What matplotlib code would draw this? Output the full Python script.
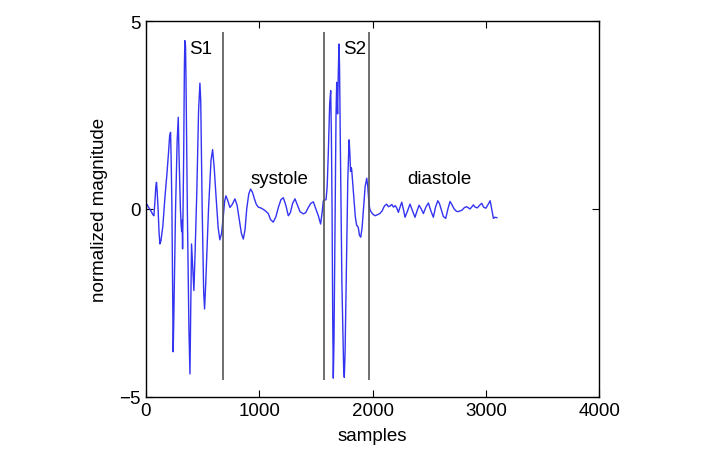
import matplotlib
matplotlib.use("Agg")
import matplotlib.pyplot as plt

plt.rcParams['font.family'] = ['Liberation Sans', 'DejaVu Sans']

# heart sound trace (sample index, normalized magnitude)
samples = [
    # S1
    0, 12, 22, 35, 50, 62, 71, 80, 88, 94, 100, 108, 116, 124, 133, 150, 168,
    185, 200, 210, 218, 224, 230, 236, 241, 246, 262, 276, 286, 292, 305, 312,
    316, 320, 324, 334, 340, 344, 350, 354, 366, 380, 389, 395, 403, 414, 424,
    436, 450, 465, 477, 484, 497, 510, 518, 528, 553, 575, 589, 603, 620, 638,
    # systole
    653, 668, 683, 695, 706, 720, 742, 762, 786, 805, 825, 843, 860, 875, 890,
    908, 924, 940, 960, 975, 992, 1020, 1051, 1080, 1100, 1124, 1148, 1170,
    1192, 1213, 1235, 1257, 1275, 1295, 1316, 1338, 1360, 1389, 1410, 1430,
    1455, 1478, 1500, 1522, 1542, 1555, 1566,
    # S2
    1590, 1600, 1610, 1622, 1631, 1637, 1643, 1649, 1654, 1660, 1670, 1678,
    1684, 1688, 1692, 1698, 1704, 1709, 1715, 1730, 1745, 1751, 1758, 1770,
    1782, 1793, 1800, 1806, 1811, 1816, 1825, 1835, 1848, 1860, 1867, 1875,
    1885, 1896, 1908, 1920, 1935,
    # diastole
    1949, 1958, 1965, 1973, 1980, 2000, 2022, 2045, 2065, 2085, 2105, 2125,
    2140, 2155, 2170, 2185, 2200, 2215, 2228, 2243, 2258, 2272, 2287, 2309,
    2331, 2353, 2375, 2393, 2411, 2430, 2449, 2471, 2493, 2515, 2537, 2556,
    2576, 2590, 2605, 2625, 2646, 2665, 2684, 2700, 2720, 2740, 2758, 2790,
    2812, 2832, 2860, 2875, 2890, 2905, 2925, 2945, 2964, 2980, 3000, 3020,
    3038, 3052, 3067, 3080, 3097]
magnitude = [
    # S1
    0.05, 0.12, 0.05, 0.0, -0.08, -0.15, -0.18, 0.2, 0.6, 0.71, 0.45, 0.0,
    -0.6, -0.93, -0.85, -0.45, 0.3, 0.9, 1.5, 1.95, 2.04, 1.2, 0.0, -2.2, -3.8,
    -3.0, 0.0, 1.8, 2.44, 1.5, 0.0, -0.45, -0.6, -0.3, -1.06, 1.5, 3.8, 4.48,
    4.35, 3.5, 0.0, -3.2, -4.39, -3.0, -0.93, -1.6, -2.17, -1.0, 0.5, 2.6,
    3.35, 2.9, 0.0, -2.2, -2.66, -2.0, 0.0, 1.3, 1.58, 1.1, 0.3, -0.5,
    # systole
    -0.82, -0.65, -0.2, 0.2, 0.35, 0.25, 0.04, 0.12, 0.27, 0.1, -0.3, -0.65,
    -0.8, -0.55, 0.0, 0.4, 0.53, 0.45, 0.25, 0.12, 0.05, 0.02, -0.04, -0.12,
    -0.28, -0.35, -0.2, 0.05, 0.25, 0.30, 0.1, -0.18, -0.1, 0.15, 0.27, 0.1,
    -0.07, -0.13, -0.1, 0.02, 0.15, 0.19, 0.0, -0.18, -0.4, -0.1, 0.22,
    # S2
    0.25, 0.6, 1.5, 2.8, 3.15, 2.0, 0.0, -3.0, -4.5, -3.5, 0.0, 2.5, 3.37,
    3.0, 2.53, 3.6, 4.39, 3.8, 2.0, -2.0, -4.2, -4.48, -3.8, -1.5, 0.8, 1.84,
    1.5, 1.0, 1.1, 1.06, 0.7, 0.3, -0.2, -0.44, -0.45, -0.5, -0.7, -0.75,
    -0.5, 0.0, 0.6,
    # diastole
    0.82, 0.6, 0.3, 0.05, -0.04, -0.13, -0.18, -0.15, -0.12, -0.05, 0.08,
    0.13, 0.06, 0.08, 0.12, 0.05, 0.09, 0.02, -0.09, 0.05, 0.18, 0.0, -0.22,
    -0.05, 0.13, -0.05, -0.22, -0.05, 0.1, 0.0, -0.12, 0.05, 0.16, -0.05,
    -0.22, 0.05, 0.22, 0.15, 0.0, -0.2, -0.25, 0.0, 0.2, 0.12, 0.0, -0.06,
    -0.07, -0.03, 0.04, 0.06, 0.0, 0.05, 0.11, 0.05, 0.03, 0.1, 0.15, 0.05,
    0.02, 0.12, 0.22, 0.0, -0.25, -0.22, -0.23]

# segment boundaries
boundaries = [680, 1575, 1969]
bound_low, bound_high = -4.55, 4.7

labels = ['S1', 'systole', 'S2', 'diastole']

fig = plt.figure(figsize=(7.15, 4.6), dpi=100)
ax = fig.add_axes([0.204, 0.135, 0.634, 0.817])

ax.plot(samples, magnitude, color=(0.2, 0.2, 0.95), lw=1.0)
ax.vlines(boundaries, bound_low, bound_high, color='#555555', lw=1.2)

ax.text(380, 4.28, labels[0], fontsize=13.5, va='center', ha='left')
ax.text(927, 0.8, labels[1], fontsize=13.5, va='center', ha='left')
ax.text(1740, 4.28, labels[2], fontsize=13.5, va='center', ha='left')
ax.text(2305, 0.8, labels[3], fontsize=13.5, va='center', ha='left')

ax.set_xlim(0, 4000)
ax.set_ylim(-5, 5)
ax.set_xticks([0, 1000, 2000, 3000, 4000])
ax.set_yticks([-5, 0, 5])
ax.tick_params(direction='in', top=True, right=True, length=5, labelsize=13.5)
for s in ax.spines.values():
    s.set_linewidth(1.0)
ax.set_xlabel('samples', fontsize=13.5, labelpad=6)
ax.set_ylabel('normalized magnitude', fontsize=13.5, labelpad=8)

fig.savefig('out.png', dpi=100)
